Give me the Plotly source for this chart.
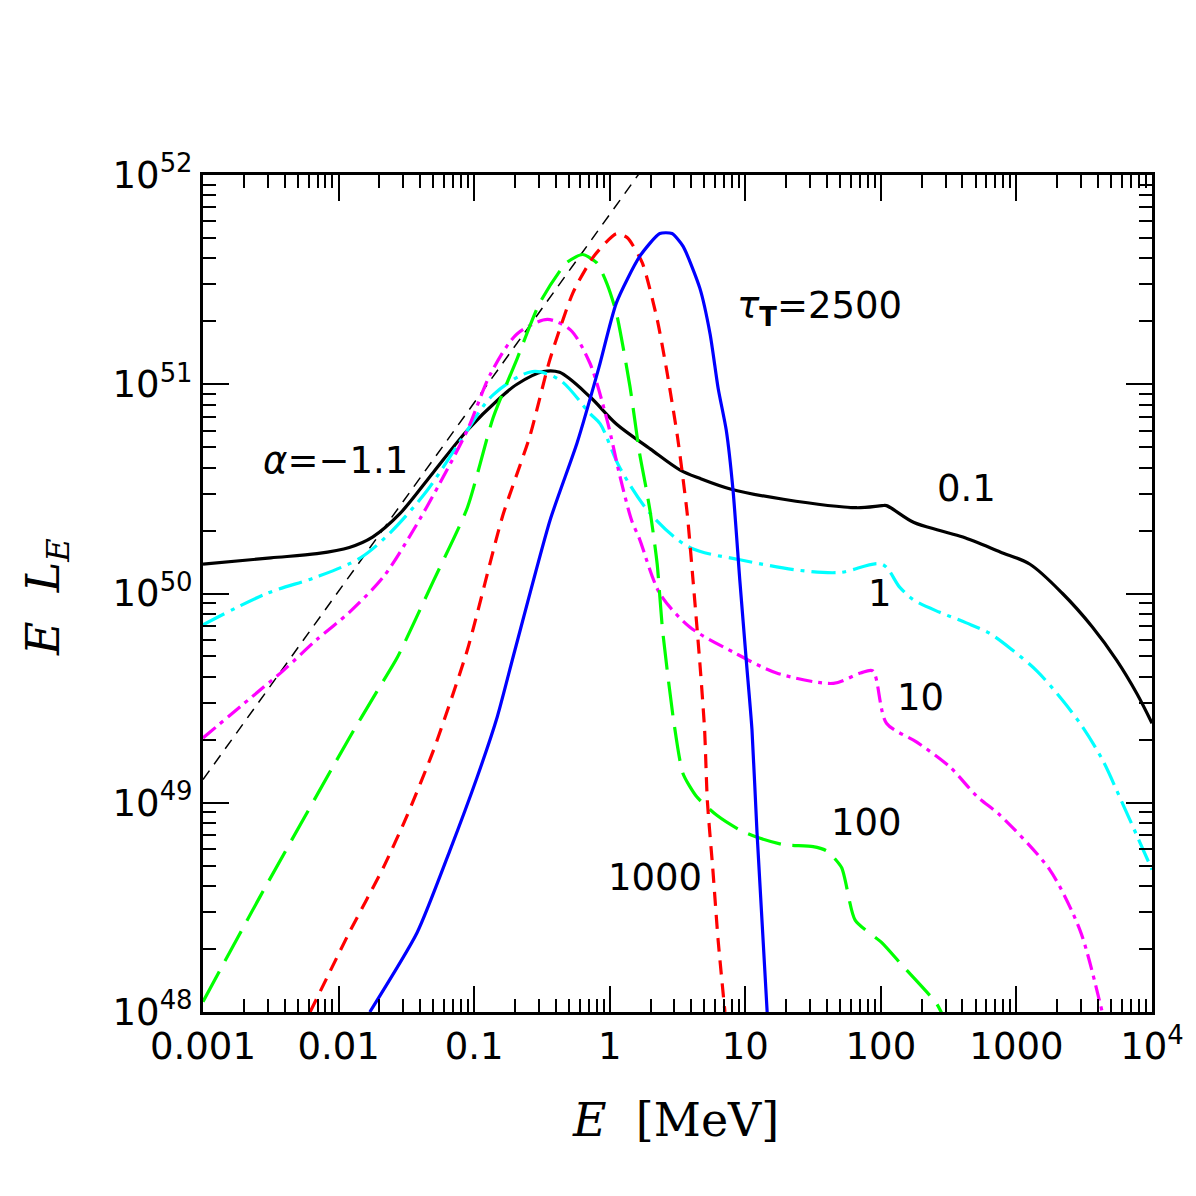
import plotly.graph_objects as go

# ---- data (E in MeV, E*L_E in erg/s) ----
E_01 = [0.001, 0.00316, 0.00692, 0.0120, 0.0178, 0.0282, 0.0501, 0.0891, 0.155, 0.207,
        0.324, 0.427, 0.715, 1.12, 2.0, 3.31, 4.62, 7.76, 19.1, 66.1, 102, 110, 174, 272,
        403, 759, 1259, 2188, 3631, 5495, 7762, 10000]
L_01 = [1.38e50, 1.48e50, 1.55e50, 1.66e50, 1.86e50, 2.40e50, 3.80e50, 6.03e50, 8.6e50, 1.00e51,
        1.15e51, 1.14e51, 8.71e50, 6.46e50, 4.90e50, 3.89e50, 3.55e50, 3.16e50, 2.82e50, 2.57e50,
        2.63e50, 2.63e50, 2.19e50, 2.00e50, 1.86e50, 1.58e50, 1.38e50, 1.00e50, 6.92e49, 4.79e49,
        3.31e49, 2.40e49]

E_1 = [0.001, 0.00295, 0.00692, 0.0145, 0.0240, 0.0447, 0.0794, 0.138, 0.269, 0.427, 0.715,
       0.851, 1.19, 2.0, 3.89, 9.12, 25.1, 50.1, 102, 138, 174, 272, 427, 631, 933, 1413,
       2188, 3090, 4365, 5754, 10000]
L_1 = [7.08e49, 1.00e50, 1.20e50, 1.48e50, 1.95e50, 3.09e50, 5.37e50, 8.9e50, 1.15e51, 1.05e51, 7.24e50,
       6.46e50, 3.98e50, 2.40e50, 1.66e50, 1.45e50, 1.29e50, 1.26e50, 1.38e50, 1.07e50,
       9.33e49, 8.13e49, 7.24e49, 6.46e49, 5.37e49, 4.27e49, 3.09e49, 2.29e49, 1.58e49, 1.07e49,
       4.79e48]

E_10 = [0.001, 0.00234, 0.00389, 0.00692, 0.0120, 0.0214, 0.0355, 0.0562, 0.0891, 0.132, 0.207,
        0.347, 0.513, 0.715, 0.955, 1.19, 1.45, 1.66, 2.34, 3.89, 8.13, 17.0, 44.7, 70.8, 87.1,
        110, 184, 324, 513, 759, 1758, 2951, 4074, 4467]
L_10 = [2.04e49, 3.24e49, 4.27e49, 6.03e49, 8.13e49, 1.20e50, 2.00e50, 3.39e50, 6.03e50, 1.12e51, 1.74e51,
        2.04e51, 1.82e51, 1.26e51, 6.76e50, 3.63e50, 2.24e50, 1.82e50, 1.00e50, 6.92e49, 5.25e49,
        4.17e49, 3.72e49, 4.17e49, 4.27e49, 2.40e49, 1.95e49, 1.48e49, 1.07e49, 8.71e48, 4.79e48,
        2.45e48, 1.15e48, 8.91e47]

E_100 = [0.001, 0.00263, 0.0120, 0.0191, 0.0269, 0.0501, 0.0891, 0.138, 0.207, 0.305, 0.479,
         0.631, 0.804, 0.955, 1.12, 1.41, 1.66, 1.86, 2.0, 2.24, 2.45, 2.95, 3.47, 4.37,
         6.17, 9.12, 12.9, 19.1, 31.6, 39.8, 51.3, 64.6, 102, 145, 257, 288]
L_100 = [1.12e48, 3.55e48, 2.04e49, 3.39e49, 4.90e49, 1.15e50, 2.57e50, 6.92e50, 1.32e51, 2.45e51, 3.80e51,
         4.17e51, 3.80e51, 3.02e51, 2.19e51, 9.77e50, 4.68e50, 3.16e50, 2.40e50, 1.38e50,
         6.76e49, 2.51e49, 1.38e49, 1.07e49, 8.71e48, 7.41e48, 6.76e48, 6.31e48, 6.17e48,
         5.89e48, 4.90e48, 2.75e48, 2.14e48, 1.66e48, 1.10e48, 9.55e47]

E_1000 = [0.00617, 0.0120, 0.0162, 0.0214, 0.0316, 0.0501, 0.0891, 0.162, 0.257, 0.363, 0.537,
          0.759, 1.12, 1.35, 1.74, 2.24, 2.63, 3.16, 3.72, 4.12, 4.62, 5.01, 5.25, 5.75,
          6.31, 7.08]
L_1000 = [1.0e48, 2.40e48, 3.47e48, 4.90e48, 8.51e48, 1.78e49, 5.37e49, 2.34e50, 5.62e50, 1.32e51,
          2.75e51, 4.07e51, 5.25e51, 5.01e51, 3.80e51, 2.04e51, 1.17e51, 5.62e50, 2.45e50,
          1.15e50, 4.68e49, 2.24e49, 1.02e49, 4.90e48, 2.19e48, 1.0e48]

E_2500 = [0.0170, 0.0380, 0.0661, 0.105, 0.148, 0.200, 0.363, 0.575, 0.832, 1.12, 1.66,
          2.34, 2.88, 3.47, 4.62, 5.50, 6.31, 7.24, 8.13, 9.12, 10.2, 11.2, 12.2, 14.5]
L_2500 = [1.0e48, 2.40e48, 5.89e48, 1.32e49, 2.57e49, 5.37e49, 2.24e50, 5.25e50, 1.20e51,
          2.45e51, 4.07e51, 5.25e51, 5.25e51, 4.57e51, 2.88e51, 1.74e51, 9.55e50, 6.03e50,
          3.09e50, 1.15e50, 4.68e49, 2.24e49, 7.24e48, 1.0e48]

E_pl = [0.001, 1.8]
L_pl = [1.29e49, 1.1e52]

x_tickvals = [1e-3, 1e-2, 1e-1, 1, 10, 100, 1000, 1e4]
x_ticktext = ["0.001", "0.01", "0.1", "1", "10", "100", "1000", "10<sup>4</sup>"]
y_tickvals = [1e48, 1e49, 1e50, 1e51, 1e52]
y_ticktext = ["10<sup>48</sup>", "10<sup>49</sup>", "10<sup>50</sup>", "10<sup>51</sup>", "10<sup>52</sup>"]

curve_labels = ["0.1", "1", "10", "100", "1000"]

fig = go.Figure()

def add(x, y, color, dash, width=3.2, shape="spline", smooth=0.6):
    line = dict(color=color, dash=dash, width=width, shape=shape)
    if shape == "spline":
        line["smoothing"] = smooth
    fig.add_trace(go.Scatter(x=x, y=y, mode="lines", line=line,
                             showlegend=False, hoverinfo="skip"))

add(E_pl, L_pl, "black", "11px,8px", 1.5, "linear")
add(E_01, L_01, "black", "solid", smooth=0.9)
add(E_1, L_1, "#00FFFF", "24px,7px,4px,7px", smooth=0.9)
add(E_10, L_10, "#FF00FF", "16px,6px,4px,6px", smooth=0.8)
add(E_100, L_100, "#00FF00", "34px,12px")
add(E_1000, L_1000, "#FF0000", "14px,9px")
add(E_2500, L_2500, "#0000FF", "solid")

L, R, T, B = 203, 1152, 175, 1012
def px(x):
    return (x - L) / (R - L)
def py(y):
    return (B - y) / (B - T)

tfont = dict(family="DejaVu Sans", size=37, color="black")
ann = [
    ("<i>α</i>=−1.1", 335, 460),
    ("<i>τ</i><sub><b>T</b></sub>=2500", 819, 308),
    (curve_labels[0], 966, 488),
    (curve_labels[1], 880, 593),
    (curve_labels[2], 920, 697),
    (curve_labels[3], 866, 822),
    (curve_labels[4], 655, 877),
]
for txt, xx, yy in ann:
    fig.add_annotation(text=txt, x=px(xx), y=py(yy), xref="paper", yref="paper",
                       showarrow=False, font=tfont, xanchor="center", yanchor="middle")

# axis titles
fig.add_annotation(text="<i>E</i>  [MeV]", x=px(675), y=py(1120), xref="paper", yref="paper",
                   showarrow=False, font=dict(family="DejaVu Serif", size=46, color="black"),
                   xanchor="center", yanchor="middle")
fig.add_annotation(text="<i>E  L<sub>E</sub></i>", x=px(46), y=py(597), xref="paper", yref="paper",
                   showarrow=False, font=dict(family="DejaVu Serif", size=46, color="black"),
                   textangle=-90, xanchor="center", yanchor="middle")

axis_common = dict(type="log", showgrid=False, zeroline=False, showline=True, linewidth=3,
                   linecolor="black", ticks="inside", ticklen=26, tickwidth=2, tickcolor="black",
                   mirror="allticks",
                   minor=dict(ticks="inside", ticklen=13, tickwidth=2, tickcolor="black", dtick="D1",
                              showgrid=False),
                   tickfont=dict(family="DejaVu Sans", size=37, color="black"))

fig.update_xaxes(range=[-3, 4], tickvals=x_tickvals, ticktext=x_ticktext, **axis_common)
fig.update_yaxes(range=[48, 52], tickvals=y_tickvals, ticktext=y_ticktext, **axis_common)

fig.update_layout(width=1196, height=1196, margin=dict(l=L, r=1196 - R, t=T, b=1196 - B),
                  plot_bgcolor="white", paper_bgcolor="white", showlegend=False)

fig.write_html("out.html")
